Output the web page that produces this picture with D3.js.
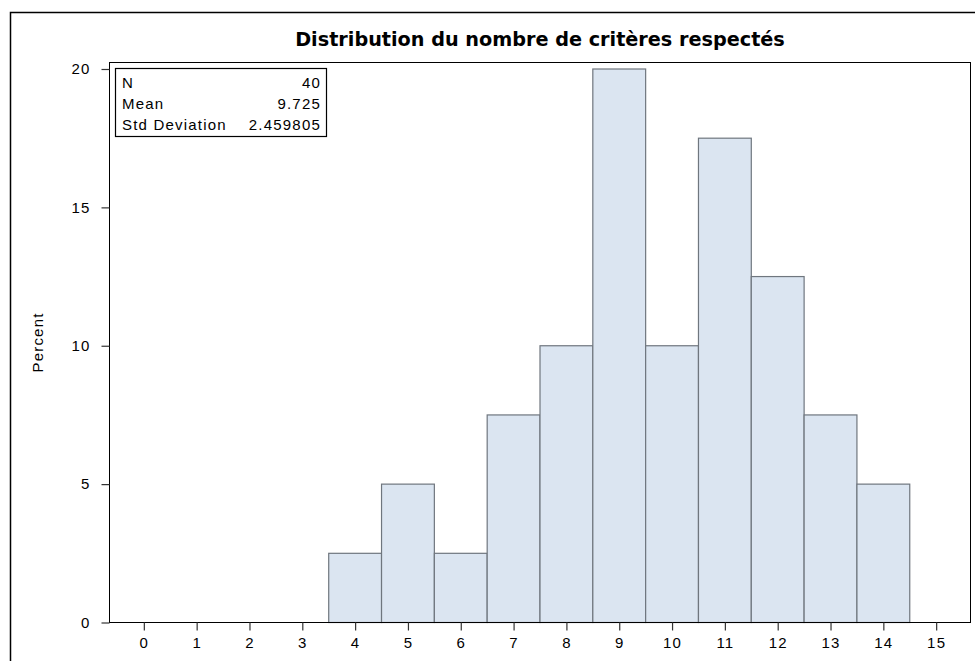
<!DOCTYPE html>
<html>
<head>
<meta charset="utf-8">
<script src="https://cdn.jsdelivr.net/npm/d3@7"></script>
<style>
  html, body { margin: 0; padding: 0; background: #fff; }
  svg { display: block; }
</style>
</head>
<body>
<svg id="chart" width="975" height="661"></svg>
<script>
// ---- data ----
const binMidpoints = [4, 5, 6, 7, 8, 9, 10, 11, 12, 13, 14];
const percentValues = [2.5, 5, 2.5, 7.5, 10, 20, 10, 17.5, 12.5, 7.5, 5];
const xTickValues = [0, 1, 2, 3, 4, 5, 6, 7, 8, 9, 10, 11, 12, 13, 14, 15];
const yTickValues = [0, 5, 10, 15, 20];
const statLabels = ["N", "Mean", "Std Deviation"];
const statValues = ["40", "9.725", "2.459805"];
const titleText = "Distribution du nombre de critères respectés";
const yAxisLabel = "Percent";

// ---- layout ----
const svg = d3.select("#chart");
const plot = { left: 109.5, right: 970.5, top: 62.5, bottom: 622.5 };
const x = d3.scaleLinear().domain([-0.65, 15.65]).range([plot.left, plot.right]);
const y = d3.scaleLinear().domain([0, 20]).range([622.5, 69]);
const font = "'Liberation Sans', Arial, sans-serif";
const ls = 1.2;

// outer border
svg.append("path")
  .attr("d", `M10.5,${661 + 5}V12.5H${975 + 5}`)
  .attr("fill", "none").attr("stroke", "#000").attr("stroke-width", 1.5);

// title (fit to the reference width)
const title = svg.append("text")
  .attr("x", (plot.left + plot.right) / 2).attr("y", 46)
  .attr("text-anchor", "middle")
  .attr("font-family", "'DejaVu Sans', Verdana, sans-serif")
  .attr("font-weight", "bold").attr("font-size", 18.5)
  .attr("fill", "#000")
  .text(titleText);
const tw = title.node().getComputedTextLength();
if (tw > 0) title.attr("font-size", Math.min(20, 18.5 * 490 / tw));

// bars
svg.append("g").selectAll("rect")
  .data(binMidpoints.map((m, i) => ({ m, v: percentValues[i] })))
  .join("rect")
  .attr("x", d => x(d.m - 0.5))
  .attr("width", d => x(d.m + 0.5) - x(d.m - 0.5))
  .attr("y", d => y(d.v))
  .attr("height", d => y(0) - y(d.v))
  .attr("fill", "#dbe5f1")
  .attr("stroke", "#6f767e").attr("stroke-width", 1.2);

// plot frame
svg.append("rect")
  .attr("x", plot.left).attr("y", plot.top)
  .attr("width", plot.right - plot.left).attr("height", plot.bottom - plot.top)
  .attr("fill", "none").attr("stroke", "#000").attr("stroke-width", 1);

// axes
const xAxis = d3.axisBottom(x).tickValues(xTickValues).tickSize(8).tickPadding(7).tickFormat(d3.format("d"));
const gx = svg.append("g").attr("transform", `translate(0,${plot.bottom})`).call(xAxis);
gx.select(".domain").remove();
gx.selectAll("line").attr("stroke", "#333").attr("stroke-width", 1.2);
gx.selectAll("text").attr("font-family", font).attr("font-size", 15)
  .attr("letter-spacing", ls).attr("fill", "#000");

const yAxis = d3.axisLeft(y).tickValues(yTickValues).tickSize(8).tickPadding(11).tickFormat(d3.format("d"));
const gy = svg.append("g").attr("transform", `translate(${plot.left},0)`).call(yAxis);
gy.select(".domain").remove();
gy.selectAll("line").attr("stroke", "#333").attr("stroke-width", 1.2);
gy.selectAll("text").attr("font-family", font).attr("font-size", 15)
  .attr("letter-spacing", ls).attr("fill", "#000");

// y label
svg.append("text")
  .attr("transform", `translate(43,${(plot.top + plot.bottom) / 2}) rotate(-90)`)
  .attr("text-anchor", "middle")
  .attr("font-family", font).attr("font-size", 15).attr("letter-spacing", ls)
  .attr("fill", "#000")
  .text(yAxisLabel);

// stats inset
const inset = svg.append("g");
inset.append("rect")
  .attr("x", 115.5).attr("y", 68.5).attr("width", 211).attr("height", 68)
  .attr("fill", "#fff").attr("stroke", "#000").attr("stroke-width", 1.2);
statLabels.forEach((lab, i) => {
  inset.append("text")
    .attr("x", 122).attr("y", 87.5 + i * 21.3)
    .attr("font-family", font).attr("font-size", 15).attr("letter-spacing", ls)
    .attr("fill", "#000").text(lab);
  inset.append("text")
    .attr("x", 321).attr("y", 87.5 + i * 21.3)
    .attr("text-anchor", "end")
    .attr("font-family", font).attr("font-size", 15).attr("letter-spacing", ls)
    .attr("fill", "#000").text(statValues[i]);
});
</script>
</body>
</html>
